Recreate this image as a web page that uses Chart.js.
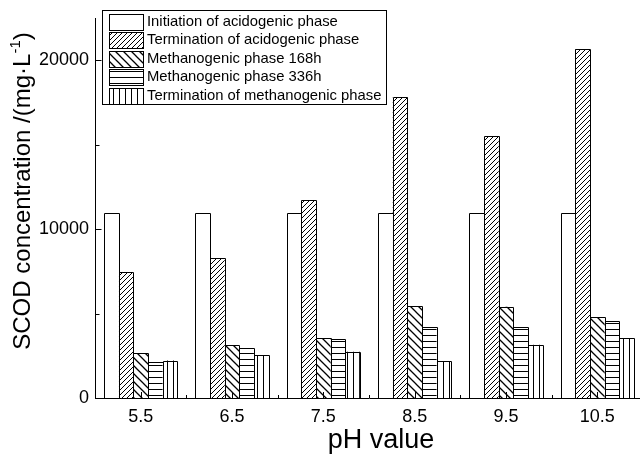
<!DOCTYPE html>
<html><head><meta charset="utf-8">
<script src="https://cdn.jsdelivr.net/npm/chart.js@4.4.0/dist/chart.umd.min.js"></script>
<style>
html,body{margin:0;padding:0;background:#fff;overflow:hidden;width:640px;height:456px}
#wrap{width:640px;height:456px;overflow:hidden;position:relative;background:#fff}
canvas{display:block}
</style></head><body>
<div id="wrap"><canvas id="c" width="648" height="456"></canvas></div>
<script>
// ---- data ----
const categories = ['5.5','6.5','7.5','8.5','9.5','10.5'];
const seriesNames = ['Initiation of acidogenic phase','Termination of acidogenic phase','Methanogenic phase 168h','Methanogenic phase 336h','Termination of methanogenic phase'];
const initiationAcid = [10950,10950,10950,10950,10950,10950];
const terminationAcid = [7450,8280,11730,17810,15520,20650];
const methano168h = [2660,3140,3550,5420,5400,4770];
const methano336h = [2130,2960,3490,4200,4200,4570];
const terminationMethano = [2220,2520,2740,2170,3150,3550];
const yMajorTicks = [0,10000,20000];
const yMinorTicks = [5000,15000];
const yMax = 22500;
const xTitle = 'pH value';
const yTitleMain = 'SCOD concentration /(mg·L';
const yTitleSup = '-1';
const yTitleEnd = ')';

const FONT = '"Liberation Sans", Arial, Helvetica, sans-serif';
const canvas = document.getElementById('c');
const ctx = canvas.getContext('2d');

function makePattern(kind){
  const s = {fwd:5, back:8, horiz:6, vert:6}[kind];
  const c = document.createElement('canvas'); c.width = s; c.height = s;
  const g = c.getContext('2d');
  g.fillStyle = '#fff'; g.fillRect(0,0,s,s);
  g.strokeStyle = '#000'; g.lineWidth = kind==='back' ? 1.3 : 1;
  g.beginPath();
  if(kind==='fwd'){
    g.moveTo(-1,s+1); g.lineTo(s+1,-1);
    g.moveTo(-2,2); g.lineTo(2,-2);
    g.moveTo(s-2,s+2); g.lineTo(s+2,s-2);
  } else if(kind==='back'){
    g.moveTo(-1,-1); g.lineTo(s+1,s+1);
    g.moveTo(s-2,-2); g.lineTo(s+2,2);
    g.moveTo(-2,s-2); g.lineTo(2,s+2);
  } else if(kind==='horiz'){
    g.moveTo(0,s-0.5); g.lineTo(s,s-0.5);
  } else {
    g.moveTo(s-0.5,0); g.lineTo(s-0.5,s);
  }
  g.stroke();
  return ctx.createPattern(c,'repeat');
}
const fills = ['#ffffff', makePattern('fwd'), makePattern('back'), makePattern('horiz'), makePattern('vert')];
const seriesData = [initiationAcid, terminationAcid, methano168h, methano336h, terminationMethano];

const datasets = seriesNames.map((n,i)=>({
  label:n, data:seriesData[i], backgroundColor:fills[i],
  borderWidth:0, barPercentage:1, categoryPercentage:0.8
}));

const decor = {
  id:'decor',
  afterDatasetsDraw(chart){
    const c = chart.ctx;
    c.save(); c.strokeStyle='#000'; c.lineWidth=1;
    chart.data.datasets.forEach((ds,i)=>{
      chart.getDatasetMeta(i).data.forEach(el=>{
        const p = el.getProps(['x','y','base','width'], true);
        const l = Math.round(p.x - p.width/2)+0.5, r = Math.round(p.x + p.width/2)+0.5;
        const t = Math.round(p.y)+0.5, b = Math.round(p.base);
        c.beginPath(); c.moveTo(l,b); c.lineTo(l,t); c.lineTo(r,t); c.lineTo(r,b); c.stroke();
      });
    });
    c.restore();
  },
  afterDraw(chart){
    const c = chart.ctx, ca = chart.chartArea;
    const xs = chart.scales.x, ys = chart.scales.y;
    c.save();
    c.strokeStyle='#000'; c.lineWidth=1;
    // inward ticks y
    const lx = Math.round(ca.left)+0.5;
    yMajorTicks.forEach(v=>{ const py=Math.round(ys.getPixelForValue(v))+0.5; c.beginPath(); c.moveTo(lx,py); c.lineTo(lx+6,py); c.stroke(); });
    yMinorTicks.forEach(v=>{ const py=Math.round(ys.getPixelForValue(v))+0.5; c.beginPath(); c.moveTo(lx,py); c.lineTo(lx+4,py); c.stroke(); });
    // inward ticks x
    const by = Math.round(ca.bottom);
    categories.forEach((cat,i)=>{
      const px = Math.round(xs.getPixelForValue(i))+0.5;
      c.beginPath(); c.moveTo(px,by); c.lineTo(px,by-6); c.stroke();
      if(i<categories.length-1){
        const mx = Math.round((xs.getPixelForValue(i)+xs.getPixelForValue(i+1))/2)+0.5;
        c.beginPath(); c.moveTo(mx,by); c.lineTo(mx,by-3); c.stroke();
      }
    });
    // legend
    const bx=102, byy=10, bw=284, bh=94;
    c.fillStyle='#fff'; c.fillRect(bx,byy,bw,bh);
    c.strokeRect(bx+0.5,byy+0.5,bw,bh);
    c.font = '14.8px '+FONT; c.textBaseline='middle'; c.textAlign='left';
    seriesNames.forEach((n,i)=>{
      const cy = 21.5 + i*18.5;
      const sy = Math.round(cy-8);
      c.fillStyle = fills[i]; c.fillRect(109,sy,34,16);
      c.strokeRect(109.5,sy+0.5,34,16);
      c.fillStyle='#000'; c.fillText(n,147,cy);
    });
    // x title
    c.font = '27px '+FONT; c.textAlign='center'; c.textBaseline='alphabetic';
    c.fillText(xTitle, 381, 448);
    // y title
    c.save();
    c.translate(23,191); c.rotate(-Math.PI/2);
    const mainF = '24px '+FONT, supF = '15px '+FONT;
    c.font = mainF; const w1 = c.measureText(yTitleMain).width, w3 = c.measureText(yTitleEnd).width;
    c.font = supF; const w2 = c.measureText(yTitleSup).width;
    const x0 = -(w1+w2+w3)/2;
    c.textAlign='left'; c.textBaseline='middle';
    c.font = mainF; c.fillText(yTitleMain, x0, 0);
    c.font = supF; c.fillText(yTitleSup, x0+w1, -7);
    c.font = mainF; c.fillText(yTitleEnd, x0+w1+w2, 0);
    c.restore();
    c.restore();
  }
};

new Chart(ctx, {
  type:'bar',
  data:{ labels:categories, datasets },
  options:{
    responsive:false, animation:false, devicePixelRatio:1,
    layout:{ padding:{ top:18, right:5, left:0, bottom:0 } },
    plugins:{ legend:{display:false}, tooltip:{enabled:false}, title:{display:false} },
    scales:{
      x:{
        type:'category', offset:true,
        grid:{ display:false, drawTicks:false },
        border:{ display:true, color:'#000', width:1 },
        ticks:{ color:'#000', font:{ family:FONT, size:18 }, padding:8, maxRotation:0, autoSkip:false },
        afterFit(s){ s.height = 58; }
      },
      y:{
        min:0, max:yMax,
        grid:{ display:false, drawTicks:false },
        border:{ display:true, color:'#000', width:1 },
        afterBuildTicks(s){ s.ticks = yMajorTicks.map(v=>({value:v})); },
        ticks:{ color:'#000', font:{ family:FONT, size:18 }, padding:6, callback:(v)=>String(v) },
        afterFit(s){ s.width = 95; }
      }
    }
  },
  plugins:[decor]
});
</script>
</body></html>
